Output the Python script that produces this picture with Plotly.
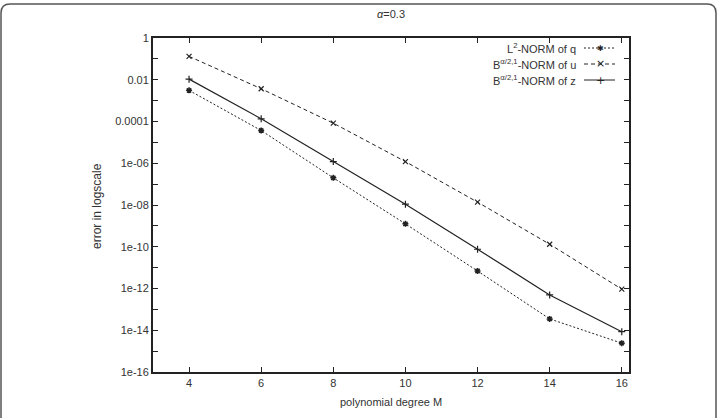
import plotly.graph_objects as go

degrees = [4, 6, 8, 10, 12, 14, 16]
err_q = [3.1e-3, 3.7e-5, 2.0e-7, 1.25e-9, 6.9e-12, 3.5e-14, 2.4e-15]
err_u = [1.32e-1, 3.7e-3, 8.3e-5, 1.2e-6, 1.37e-8, 1.32e-10, 9.3e-13]
err_z = [1.07e-2, 1.35e-4, 1.2e-6, 1.1e-8, 7.6e-11, 4.9e-13, 8.5e-15]

legend_q = "L<sup>2</sup>-NORM of q"
legend_u = "B<sup>α/2,1</sup>-NORM of u"
legend_z = "B<sup>α/2,1</sup>-NORM of z"

x_ticks = [4, 6, 8, 10, 12, 14, 16]
y_major_exps = [0, -2, -4, -6, -8, -10, -12, -14, -16]
y_labels = ["1", "0.01", "0.0001", "1e-06", "1e-08", "1e-10", "1e-12", "1e-14", "1e-16"]
y_minor_exps = [-1, -3, -5, -7, -9, -11, -13, -15]

W, H = 719, 418
L, R, T, B = 153, 629, 38, 372
PW, PH = R - L, B - T

def px(xp):
    return (xp - L) / PW

def py(yp):
    return (B - yp) / PH

INK = "#222222"
TXT = "#333333"
FONT = "Liberation Sans, Arial, sans-serif"

fig = go.Figure()
fig.add_trace(go.Scatter(x=degrees, y=err_q, mode="lines+markers", name=legend_q,
                         line=dict(color=INK, width=1, dash="2px,2px"),
                         marker=dict(symbol="asterisk-open", size=5, color=INK,
                                     line=dict(width=1.5, color=INK))))
fig.add_trace(go.Scatter(x=degrees, y=err_u, mode="lines+markers", name=legend_u,
                         line=dict(color=INK, width=1, dash="4px,3px"),
                         marker=dict(symbol="x-thin-open", size=5, color=INK,
                                     line=dict(width=1.2, color=INK))))
fig.add_trace(go.Scatter(x=degrees, y=err_z, mode="lines+markers", name=legend_z,
                         line=dict(color=INK, width=1.2),
                         marker=dict(symbol="cross-thin-open", size=5, color=INK,
                                     line=dict(width=1.2, color=INK))))

axis_common = dict(showline=True, linecolor=INK, linewidth=2, mirror="ticks",
                   ticks="inside", ticklen=5, tickcolor=INK, tickwidth=1,
                   showgrid=False, zeroline=False,
                   tickfont=dict(family=FONT, size=11, color=TXT))

fig.update_xaxes(range=[3, 16.2], tickmode="array", tickvals=x_ticks,
                 ticktext=[str(v) for v in x_ticks], **axis_common)
fig.update_yaxes(type="log", range=[-16, 0], tickmode="array",
                 tickvals=[10.0 ** e for e in y_major_exps], ticktext=y_labels,
                 minor=dict(tickmode="array", tickvals=[10.0 ** e for e in y_minor_exps],
                            ticks="inside", ticklen=5, tickcolor=INK, tickwidth=1,
                            showgrid=False),
                 **axis_common)

def ann(text, xp, yp, **kw):
    d = dict(text=text, x=px(xp), y=py(yp), xref="paper", yref="paper",
             showarrow=False, yanchor="middle",
             font=dict(family=FONT, size=11, color=TXT))
    d.update(kw)
    return d

annotations = [
    ann("<i>α</i>=0.3", 391, 14),
    ann("polynomial degree M", 391, 402),
    ann("error in logscale", 88, 206, textangle=-90,
        font=dict(family=FONT, size=12, color=TXT)),
]

shapes = []
legend_rows = [(legend_q, 48, "2px,2px", "✱", 8),
               (legend_u, 64, "4px,3px", "×", 11),
               (legend_z, 80, "solid", "+", 11)]
for text, yrow, dash, glyph, gsize in legend_rows:
    annotations.append(ann(text, 578, yrow, xanchor="right"))
    shapes.append(dict(type="line", xref="paper", yref="paper",
                       x0=px(584), x1=px(615), y0=py(yrow), y1=py(yrow),
                       line=dict(color=INK, width=1, dash=dash)))
    annotations.append(ann(glyph, 600, yrow, xanchor="center",
                           font=dict(family="DejaVu Sans", size=gsize, color=INK)))

# outer rounded frame
x0, x1, y0, y1, r = 1, 716, 4, 425, 9
path = (f"M {px(x0)},{py(y1)} L {px(x0)},{py(y0 + r)} "
        f"Q {px(x0)},{py(y0)} {px(x0 + r)},{py(y0)} "
        f"L {px(x1 - r)},{py(y0)} Q {px(x1)},{py(y0)} {px(x1)},{py(y0 + r)} "
        f"L {px(x1)},{py(y1)}")
shapes.append(dict(type="path", xref="paper", yref="paper", path=path,
                   line=dict(color="#555555", width=1.5)))

fig.update_layout(width=W, height=H, margin=dict(l=L, r=W - R, t=T, b=H - B),
                  paper_bgcolor="white", plot_bgcolor="white", showlegend=False,
                  annotations=annotations, shapes=shapes,
                  font=dict(family=FONT, size=11, color=TXT))

fig.write_html("out.html")
